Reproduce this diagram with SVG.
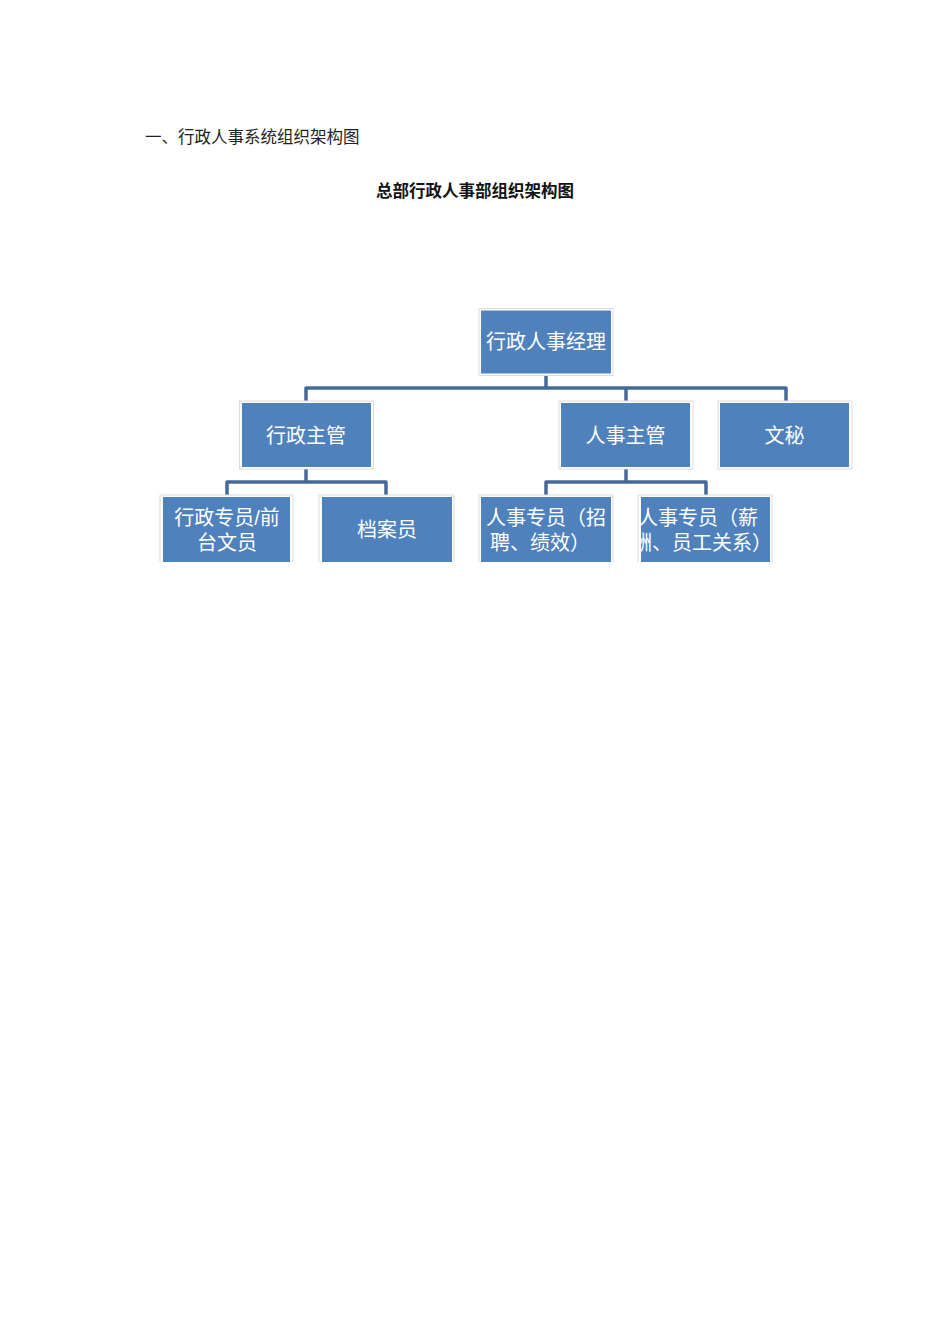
<svg xmlns="http://www.w3.org/2000/svg" width="950" height="1344" viewBox="0 0 950 1344">
<style>
.frame{fill:#ffffff;stroke:#dcdcdc;stroke-width:1}
.box{fill:#4f81bd}
.t{font-family:"Liberation Sans","Noto Sans CJK SC","Noto Sans CJK JP",sans-serif;font-size:20px;fill:#ffffff;text-anchor:middle;dominant-baseline:central}
.conn{fill:none;stroke:#43699b;stroke-width:3.5;stroke-linejoin:round}
.h1{font-family:"Liberation Sans","Noto Sans CJK SC",sans-serif;font-size:16.5px;fill:#222}
.h2{font-family:"Liberation Sans","Noto Sans CJK SC",sans-serif;font-size:16.5px;font-weight:bold;fill:#111;text-anchor:middle}
</style>
<defs>
<clipPath id="crop"><rect x="0" y="0" width="950" height="562"/></clipPath>
<clipPath id="c9"><rect x="641" y="497" width="131" height="65"/></clipPath>
</defs>
<rect width="950" height="1344" fill="#ffffff"/>
<text class="h1" x="145" y="143">一、行政人事系统组织架构图</text>
<text class="h2" x="475" y="197">总部行政人事部组织架构图</text>
<g id="connectors">
<path class="conn" d="M546 375 V388 M306 401 V388 H786 V401 M626 388 V401"/>
<path class="conn" d="M306 469 V482 M227 495 V482 H386 V495"/>
<path class="conn" d="M626 469 V482 M546 495 V482 H706 V495"/>
</g>
<g clip-path="url(#crop)">
<g id="n1">
<rect class="frame" x="479" y="308.5" width="134" height="67"/>
<rect class="box" x="481" y="310.5" width="130" height="63"/>
<text class="t" x="546" y="342">行政人事经理</text>
</g>
<g id="n2">
<rect class="frame" x="239.5" y="401" width="134" height="68"/>
<rect class="box" x="242" y="403" width="129" height="64"/>
<text class="t" x="306" y="435.5">行政主管</text>
</g>
<g id="n3">
<rect class="frame" x="559" y="401" width="134" height="68"/>
<rect class="box" x="561" y="403" width="129" height="64"/>
<text class="t" x="625.5" y="435.5">人事主管</text>
</g>
<g id="n4">
<rect class="frame" x="718" y="401" width="134" height="68"/>
<rect class="box" x="720" y="403" width="129" height="64"/>
<text class="t" x="784.5" y="435.5">文秘</text>
</g>
<g id="n5">
<rect class="frame" x="160" y="495" width="133" height="80"/>
<rect class="box" x="163" y="497" width="127" height="80"/>
<text class="t"><tspan x="227" y="517.5">行政专员/前</tspan><tspan x="227" y="542.5">台文员</tspan></text>
</g>
<g id="n6">
<rect class="frame" x="319" y="495" width="135" height="80"/>
<rect class="box" x="322" y="497" width="130" height="80"/>
<text class="t" x="387" y="529.5">档案员</text>
</g>
<g id="n7">
<rect class="frame" x="479" y="495" width="134" height="80"/>
<rect class="box" x="481" y="497" width="130" height="80"/>
<text class="t"><tspan x="546" y="517.5">人事专员（招</tspan><tspan x="540" y="542.5">聘、绩效）</tspan></text>
</g>
<g id="n8">
<rect class="frame" x="638" y="495" width="134" height="80"/>
<rect class="box" x="641" y="497" width="129" height="80"/>
<g clip-path="url(#c9)">
<text class="t"><tspan x="698" y="517.5">人事专员（薪</tspan><tspan x="702" y="542.5">酬、员工关系）</tspan></text>
</g>
</g>
</g>
</svg>
